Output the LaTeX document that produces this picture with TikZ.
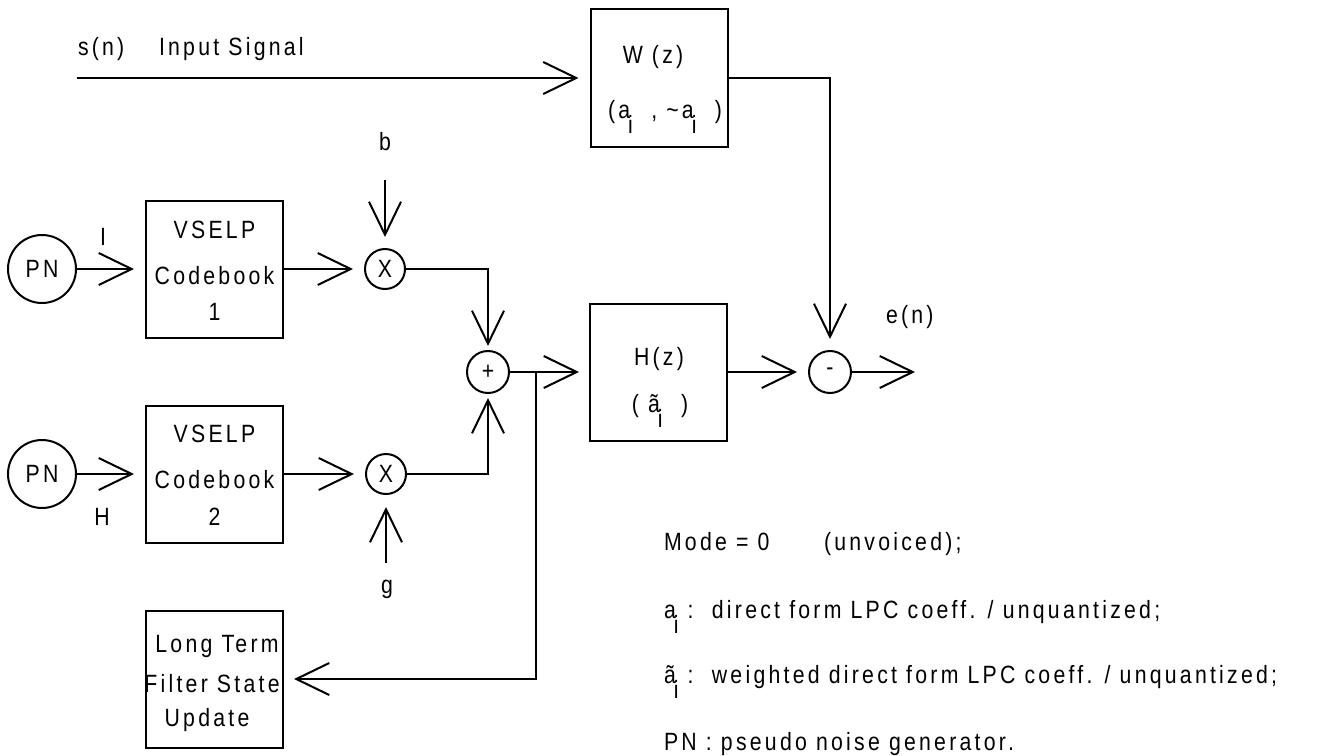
\documentclass[tikz,border=0pt]{standalone}
\usepackage{fontspec}
\setmainfont{Liberation Sans}[LetterSpace=13,FakeStretch=0.85]
\usetikzlibrary{arrows.meta}
\newcommand{\lsub}[1]{\kern-0.08em\raisebox{-0.6em}{#1}}
\begin{document}
\begin{tikzpicture}[x=0.5pt,y=-0.5pt,
  line width=1pt,
  every node/.style={inner sep=0pt, font=\fontsize{12.5}{15}\selectfont},
  blk/.style={draw, minimum width=68.5pt, minimum height=68.5pt},
  ring/.style={draw, circle, minimum size=#1},
  arr/.style={-{Straight Barb[length=16.5pt,width=16pt,line width=1pt]}},
  txt/.style={anchor=base},
  ltxt/.style={anchor=base west}
]
\useasboundingbox (0,0) rectangle (1319,756);

% blocks
\node[blk, minimum height=69pt] (W) at (659,78) {};
\node[blk] (H) at (658.5,372) {};
\node[blk] (cb1) at (214.5,269) {};
\node[blk] (cb2) at (214.5,474.5) {};
\node[blk] (lt) at (214.5,679.5) {};

% circles
\node[ring=34pt] (pn1) at (42,269) {PN};
\node[ring=34pt] (pn2) at (42,474) {PN};
\node[ring=20pt] (mul1) at (385,269) {X};
\node[ring=20pt] (mul2) at (386,474) {X};
\node[ring=21pt] (add) at (488,372) {+};
\node[ring=21pt] (minus) at (830,372) {-};

% block texts
\node[txt] (w1) at (653,63) {W (z)};
\node[txt] (w2) at (665,118) {(a\lsub{i}\ \ ,\ \textasciitilde a\lsub{i}\ \ )};
\node[txt] (h1) at (659,365) {H(z)};
\node[txt] (h2) at (660,412) {(\ ã\lsub{i}\ \ )};
\node[txt] (cb1a) at (214.5,238) {VSELP};
\node[txt] (cb1b) at (214.5,284) {Codebook};
\node[txt] (cb1c) at (214.5,320) {1};
\node[txt] (cb2a) at (214.5,442) {VSELP};
\node[txt] (cb2b) at (214.5,488) {Codebook};
\node[txt] (cb2c) at (214.5,525) {2};
\node[txt] (lt1) at (217,652) {Long Term};
\node[txt] (lt2) at (212,692) {Filter State};
\node[txt] (lt3) at (207,726) {Update};

% labels
\node[ltxt] (sn) at (77,55) {s(n)};
\node[ltxt] (insig) at (158,55) {Input Signal};
\node[txt] (blab) at (385,150) {b};
\node[txt] (glab) at (387,593) {g};
\node[txt] (ilab) at (103,245) {I};
\node[txt] (hlab) at (102,525) {H};
\node[ltxt] (elab) at (885,323) {e(n)};

% legend
\node[ltxt] (lg1) at (663,550) {Mode = 0};
\node[ltxt] (lg1b) at (823,550) {(unvoiced);};
\node[ltxt] (lg2) at (663,618) {a\lsub{i}\ :\ \ direct form LPC coeff. / unquantized;};
\node[ltxt] (lg3) at (663,683) {ã\lsub{i}\ :\ \ weighted direct form LPC coeff. / unquantized;};
\node[ltxt] (lg4) at (663,750) {PN : pseudo noise generator.};

% free ends
\coordinate (sin) at (77,78);
\coordinate (bin) at (385,180);
\coordinate (gin) at (386,563);
\coordinate (br) at (536,372);
\coordinate (eout) at (915,372);

% connectors
\draw[arr, shorten >=5.5pt] (sin) -- (W.west);
\draw[arr, shorten >=5.5pt] (pn1) -- (cb1.west |- pn1);
\draw[arr, shorten >=5.5pt] (pn2) -- (cb2.west |- pn2);
\draw[arr, shorten >=5.5pt] (cb1.east |- mul1) -- (mul1);
\draw[arr, shorten >=5.5pt] (cb2.east |- mul2) -- (mul2);
\draw[arr, shorten >=5.5pt] (bin) -- (mul1);
\draw[arr, shorten >=6pt] (gin) -- (mul2);
\draw[arr, shorten >=2pt] (mul1) -| (add);
\draw[arr, shorten >=2pt] (mul2) -| (add);
\draw[arr, shorten >=5pt] (add) -- (H);
\draw[arr, shorten >=5pt] (br) |- (lt.east |- 0,679);
\draw[arr, shorten >=5.5pt] (W) -| (minus);
\draw[arr, shorten >=5.5pt] (H) -- (minus);
\draw[arr] (minus) -- (eout);
\end{tikzpicture}
\end{document}
